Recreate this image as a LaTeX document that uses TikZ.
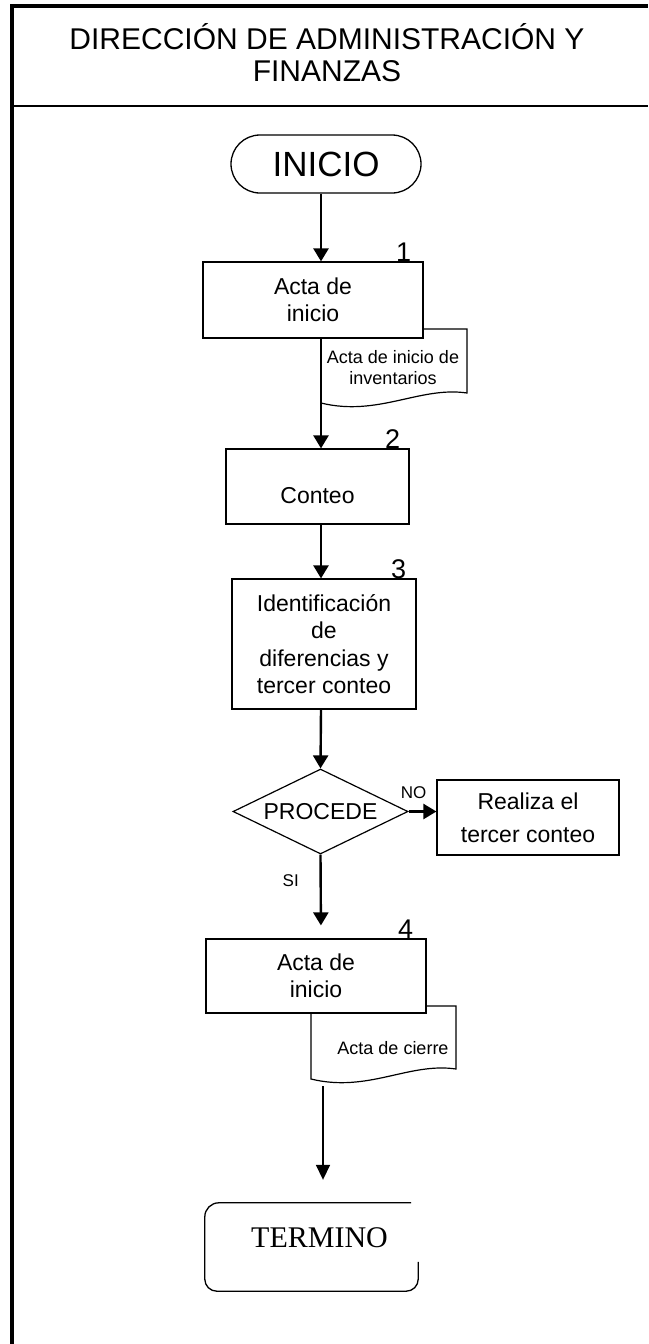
\documentclass[tikz,border=0pt]{standalone}
\usepackage{fontspec}
\setmainfont{Liberation Sans}
\newfontfamily\serifo{Liberation Serif}
\usetikzlibrary{arrows.meta,shapes.geometric,calc}
\tikzset{
  caja/.style={draw, line width=1.2pt, fill=white, align=center,
    font=\fontsize{23}{27.5}\selectfont, inner sep=0pt},
  flecha/.style={line width=2.4pt, -{Triangle[width=15pt,length=13pt]}},
  numero/.style={anchor=base, font=\fontsize{27}{27}\selectfont, inner sep=0pt},
  etiqueta/.style={font=\fontsize{17}{17}\selectfont, inner sep=0pt},
  doctexto/.style={align=center, font=\fontsize{18}{21}\selectfont, inner sep=0pt}
}
\newcommand{\documento}[4]{%
  \filldraw[fill=white, line width=1.2pt] (#1,#2) -- (#3,#2) -- ({#3},{#4-10})
    .. controls ({#3-47},{#4-17}) and ({#1+57},{#4+14}) .. (#1,#4) -- cycle;}

\begin{document}
\begin{tikzpicture}[x=1pt, y=-1pt]
  \useasboundingbox (0,0) rectangle (648,1344);
  \draw[line width=4pt] (10,6) -- (648,6);
  \draw[line width=4.5pt] (12,4) -- (12,1344);
  \draw[line width=2.5pt] (12,106) -- (648,106);
  \node[align=center, font=\fontsize{30}{32}\selectfont] (titulo) at (327,53)
    {DIRECCIÓN DE ADMINISTRACIÓN Y\\FINANZAS};

  \coordinate (eje) at (321,0);

  \node[draw, line width=1.3pt, rounded corners=29pt, minimum width=190pt,
        minimum height=58pt, inner sep=0pt,
        font=\fontsize{35}{35}\selectfont] (inicio) at (326,164) {INICIO};

  \documento{321}{329}{467}{403}
  \node[doctexto] (doc1) at (393,368) {Acta de inicio de\\inventarios};
  \node[caja, minimum width=220pt, minimum height=76pt] (paso1) at (313,300)
    {Acta de\\inicio};
  \node[numero] at ([xshift=-20pt]paso1.north east) {1};

  \node[caja, minimum width=183pt, minimum height=75pt] (paso2) at (317.5,486.5)
    {\raisebox{-9.5pt}[\height][\depth]{Conteo}};
  \node[numero] at ([xshift=-17pt]paso2.north east) {2};

  \node[caja, minimum width=184pt, minimum height=130pt] (paso3) at (324,644)
    {Identificación\\de\\diferencias y\\tercer conteo};
  \node[numero] at ([xshift=-18pt]paso3.north east) {3};

  \node[draw, diamond, aspect=2, line width=1.2pt, minimum width=175pt,
        minimum height=85pt, inner sep=0pt,
        font=\fontsize{23}{23}\selectfont] (procede) at (320.5,811.5) {PROCEDE};
  \node[caja, minimum width=182pt, minimum height=75pt,
        font=\fontsize{23}{33}\selectfont] (realiza) at (528,817.5)
    {Realiza el\\tercer conteo};
  \node[etiqueta, anchor=base west] (no) at ([xshift=-8pt,yshift=13.5pt]procede.east) {NO};
  \node[etiqueta, anchor=base west] (si) at ([xshift=-38pt,yshift=-32pt]procede.south) {SI};

  \documento{311}{1006}{456}{1079}
  \node[doctexto] (doc2) at (393,1048) {Acta de cierre};
  \node[caja, minimum width=220pt, minimum height=74pt] (paso4) at (316,976)
    {Acta de\\inicio};
  \node[numero] at ([xshift=-21pt]paso4.north east) {4};
  \coordinate (cierre) at (323,1086);

  \node[minimum width=213pt, minimum height=88pt, inner sep=0pt,
        font=\serifo\fontsize{30}{30}\selectfont] (termino) at (311.5,1247)
    {\raisebox{9pt}[\height][\depth]{\hspace*{16pt}TERMINO}};
  \draw[line width=1.3pt] ([xshift=-7pt]termino.north east)
    -- ([xshift=14pt]termino.north west) arc[start angle=90, end angle=180, radius=14pt]
    -- ([yshift=12pt]termino.south west) arc[start angle=180, end angle=270, radius=12pt]
    -- ([xshift=-12pt]termino.south east) arc[start angle=270, end angle=360, radius=12pt]
    -- ([yshift=-59pt]termino.north east);

  \draw[flecha] (inicio.south -| eje) -- (paso1.north -| eje);
  \draw[flecha] (paso1.south -| eje) -- (paso2.north -| eje);
  \draw[flecha] (paso2.south -| eje) -- (paso3.north -| eje);
  \draw[flecha] (paso3.south -| eje) -- (procede.north);
  \draw[flecha] (procede.east) -- (procede.east -| realiza.west);
  \draw[flecha, shorten >=13pt] (procede.south) -- (paso4.north -| eje);
  \draw[line width=1.6pt, -{Triangle[width=14pt,length=15pt]}, shorten >=23pt]
    (cierre) -- (termino.north -| cierre);
\end{tikzpicture}
\end{document}
